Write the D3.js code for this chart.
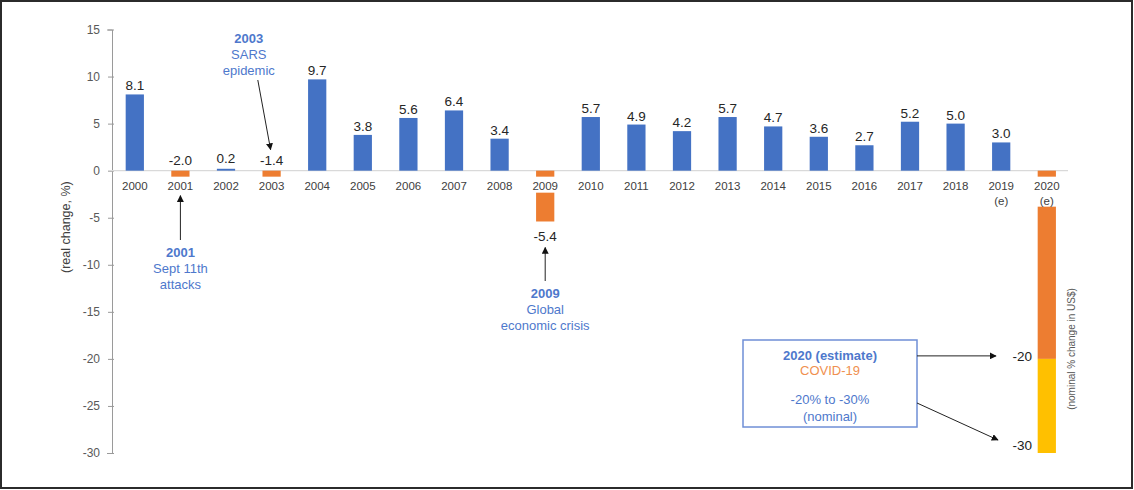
<!DOCTYPE html>
<html>
<head>
<meta charset="utf-8">
<script src="https://cdn.jsdelivr.net/npm/d3@7"></script>
<style>
  html, body { margin: 0; padding: 0; background: #fff; }
  svg { display: block; font-family: "Liberation Sans", Arial, sans-serif; }
</style>
</head>
<body>
<svg id="chart" width="1134" height="490"></svg>
<script>
// ---- data ----
const years = ["2000","2001","2002","2003","2004","2005","2006","2007","2008","2009","2010",
               "2011","2012","2013","2014","2015","2016","2017","2018","2019","2020"];
const yearNotes = ["","","","","","","","","","","","","","","","","","","","(e)","(e)"];
const realChange = [8.1,-2.0,0.2,-1.4,9.7,3.8,5.6,6.4,3.4,-5.4,5.7,4.9,4.2,5.7,4.7,3.6,2.7,5.2,5.0,3.0,null];
const nominal2020 = [-20, -30];           // estimate range (nominal % change in US$)
const yTicks = [15,10,5,0,-5,-10,-15,-20,-25,-30];
const nominalTicks = [-20, -30];

const blue = "#4472C4", orange = "#ED7D31", yellow = "#FFC000";
const annoBlue = "#4E78CC";

const svg = d3.select("#chart");
const W = 1134, H = 490;

// border
svg.append("rect").attr("x",1).attr("y",1).attr("width",W-3).attr("height",H-3)
  .attr("fill","#fff").attr("stroke","#2b2b2b").attr("stroke-width",2);

const x = d3.scaleBand().domain(years).range([112, 112 + 21*45.6]).paddingInner(0.6).paddingOuter(0.3);
const y = d3.scaleLinear().domain([-30, 15]).range([453, 29.5]);
const bw = x.bandwidth();
const xc = d => x(d) + bw/2;

// arrow marker
const defs = svg.append("defs");
defs.append("marker").attr("id","arrow").attr("viewBox","0 0 10 10").attr("refX",9).attr("refY",5)
  .attr("markerWidth",7).attr("markerHeight",7).attr("orient","auto-start-reverse")
  .append("path").attr("d","M0,0 L10,5 L0,10 z").attr("fill","#111");

// y axis
const yAxis = d3.axisLeft(y).tickValues(yTicks).tickSize(5).tickPadding(7).tickFormat(d => String(d));
const gy = svg.append("g").attr("transform","translate(112,0)").call(yAxis);
gy.select(".domain").attr("stroke","#9a9a9a");
gy.selectAll(".tick line").attr("stroke","#9a9a9a").attr("x2",-4).attr("x1",2);
gy.selectAll(".tick text").attr("fill","#595959").style("font-size","12px")
  .style("font-family","Liberation Sans, Arial, sans-serif");

svg.append("text").attr("transform",`translate(70,${(y(0)+y(-12))/2}) rotate(-90)`)
  .attr("text-anchor","middle").attr("fill","#404040").style("font-size","12.5px")
  .text("(real change, %)");

// zero line
svg.append("line").attr("x1",112).attr("x2",1068).attr("y1",y(0)).attr("y2",y(0))
  .attr("stroke","#d9d9d9").attr("stroke-width",1.2);

// bars (real change)
const barData = years.map((yr,i)=>({yr, v: realChange[i]})).filter(d=>d.v !== null);
svg.append("g").selectAll("rect").data(barData).join("rect")
  .attr("x", d=>x(d.yr)).attr("width", bw)
  .attr("y", d=>y(Math.max(0,d.v))).attr("height", d=>Math.max(1.5, Math.abs(y(d.v)-y(0))))
  .attr("fill", d=> d.v < 0 ? orange : blue);

// 2020 nominal estimate bar
svg.append("rect").attr("x", x("2020")).attr("width", bw)
  .attr("y", y(0)).attr("height", y(nominal2020[0]) - y(0)).attr("fill", orange);
svg.append("rect").attr("x", x("2020")).attr("width", bw)
  .attr("y", y(nominal2020[0])).attr("height", y(nominal2020[1]) - y(nominal2020[0])).attr("fill", yellow);

// category labels with white backing
const gx = svg.append("g");
years.forEach((yr,i)=>{
  const two = yearNotes[i] !== "";
  gx.append("rect").attr("x", xc(yr)-15).attr("width",30)
    .attr("y", y(0)+6).attr("height", two ? 30 : 16).attr("fill","#fff");
  gx.append("text").attr("x", xc(yr)).attr("y", y(0)+19).attr("text-anchor","middle")
    .attr("fill","#404040").style("font-size","11.5px").text(yr);
  if (two) gx.append("text").attr("x", xc(yr)).attr("y", y(0)+34).attr("text-anchor","middle")
    .attr("fill","#404040").style("font-size","11.5px").text(yearNotes[i]);
});

// value labels
svg.append("g").selectAll("text").data(barData).join("text")
  .attr("x", d=>xc(d.yr))
  .attr("y", d=> d.v < -3 ? y(d.v)+20 : y(Math.max(0,d.v)) - (d.v < 1 ? 6 : 4))
  .attr("text-anchor","middle").attr("fill","#262626").style("font-size","13.5px")
  .text(d=>d.v.toFixed(1));

// annotations
function multi(xp, yp, lines, colorArr, boldArr, size) {
  lines.forEach((t,i)=>{
    svg.append("text").attr("x",xp).attr("y",yp + i*16).attr("text-anchor","middle")
      .attr("fill", colorArr[i]).style("font-size", size+"px")
      .style("font-weight", boldArr[i] ? "bold" : "normal").text(t);
  });
}
// 2003 SARS
const sx = (xc("2002")+xc("2003"))/2;
multi(sx, 43, ["2003","SARS","epidemic"], [annoBlue,annoBlue,annoBlue],[true,false,false], 13);
svg.append("line").attr("x1", sx+9).attr("y1", 80).attr("x2", xc("2003")-1).attr("y2", y(0)-21)
  .attr("stroke","#222").attr("stroke-width",1).attr("marker-end","url(#arrow)");
// 2001 Sept 11th
svg.append("line").attr("x1", xc("2001")).attr("y1", 240).attr("x2", xc("2001")).attr("y2", y(0)+25)
  .attr("stroke","#222").attr("stroke-width",1).attr("marker-end","url(#arrow)");
multi(xc("2001"), 257, ["2001","Sept 11th","attacks"], [annoBlue,annoBlue,annoBlue],[true,false,false], 13);
// 2009 crisis
svg.append("line").attr("x1", xc("2009")).attr("y1", 281).attr("x2", xc("2009")).attr("y2", y(-5.4)+26)
  .attr("stroke","#222").attr("stroke-width",1).attr("marker-end","url(#arrow)");
multi(xc("2009"), 298, ["2009","Global","economic crisis"], [annoBlue,annoBlue,annoBlue],[true,false,false], 13);

// 2020 box
svg.append("rect").attr("x",743).attr("y",340).attr("width",174).attr("height",87)
  .attr("fill","#fff").attr("stroke","#6f8fd6").attr("stroke-width",1.5);
svg.append("text").attr("x",830).attr("y",360).attr("text-anchor","middle").attr("fill",annoBlue)
  .style("font-size","13px").style("font-weight","bold").text("2020 (estimate)");
svg.append("text").attr("x",830).attr("y",375).attr("text-anchor","middle").attr("fill","#F0904F")
  .style("font-size","13px").text("COVID-19");
svg.append("text").attr("x",830).attr("y",404).attr("text-anchor","middle").attr("fill",annoBlue)
  .style("font-size","13px").text("-20% to -30%");
svg.append("text").attr("x",830).attr("y",421).attr("text-anchor","middle").attr("fill",annoBlue)
  .style("font-size","13px").text("(nominal)");

// box arrows
svg.append("line").attr("x1",917).attr("y1",y(nominalTicks[0])-3).attr("x2",996).attr("y2",y(nominalTicks[0])-3)
  .attr("stroke","#222").attr("stroke-width",1).attr("marker-end","url(#arrow)");
svg.append("line").attr("x1",917).attr("y1",403).attr("x2",998).attr("y2",y(nominalTicks[1])-13)
  .attr("stroke","#222").attr("stroke-width",1).attr("marker-end","url(#arrow)");

// nominal tick labels
svg.append("g").selectAll("text").data(nominalTicks).join("text")
  .attr("x", 1032).attr("y", d=> d === -30 ? y(d)-3 : y(d)+2).attr("text-anchor","end")
  .attr("fill","#222").style("font-size","13.5px").text(d=>String(d));

svg.append("text").attr("transform",`translate(1075,349) rotate(-90)`).attr("text-anchor","middle")
  .attr("fill","#595959").style("font-size","10px").text("(nominal % change in US$)");
</script>
</body>
</html>
